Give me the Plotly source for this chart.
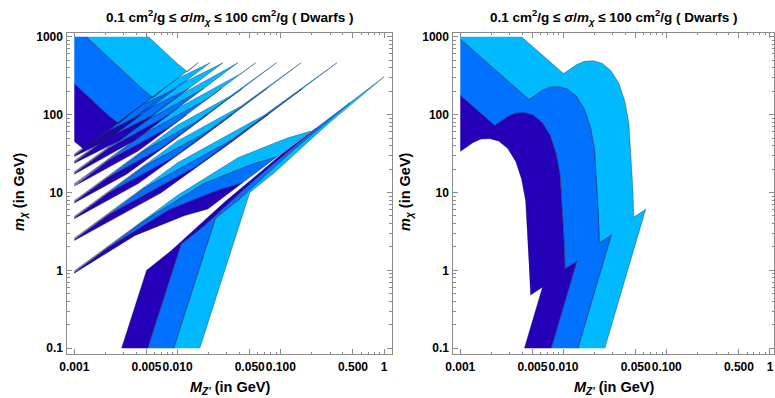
import numpy as np
import plotly.graph_objects as go

# Band colours: 10-100, 1-10 and 0.1-1 cm^2/g
DARK = "#2400b8"
MID = "#0072ff"
LIGHT = "#00b9ff"
EDGE = "rgba(25,30,80,0.6)"
FRAME = "#8c8c8c"

# sigma/m levels (cm^2/g) that bound the three coloured bands
levels = [100.0, 10.0, 1.0, 0.1]
band_colors = [DARK, MID, LIGHT]

# Plotted domain (GeV)
mz_lo, mz_hi = 0.001, 1.0
mx_lo, mx_hi = 0.1, 1000.0

# ---- sigma/m = 100 cm^2/g contour pieces, log10(M_Z'/GeV) and log10(m_chi/GeV) ----
# Left panel (resonant regime)
block_lmz = [-4.218, -3.000, -2.904, -2.799]
block_lmx = [3.154, 1.653, 1.551, 1.666]

s1_lmz = [-4.218, -3.000, -2.415, -1.936, -1.706]
s1_lmx = [-1.215, -0.037, 0.446, 0.700, 0.789]

s2_lmz = [-4.218, -3.000, -2.158, -1.456]
s2_lmx = [-0.795, 0.382, 0.996, 1.666]

s3_lmz = [-4.218, -3.000, -2.380, -1.802]
s3_lmx = [-0.516, 0.662, 1.114, 1.666]

s4_lmz = [-4.218, -3.000, -2.493, -2.041]
s4_lmx = [-0.313, 0.865, 1.235, 1.666]

s5_lmz = [-4.218, -3.000, -2.386, -2.243]
s5_lmx = [-0.097, 1.081, 1.528, 1.666]

s6_lmz = [-4.218, -3.000, -2.415]
s6_lmx = [0.056, 1.234, 1.666]

s7_lmz = [-4.218, -3.000, -2.559]
s7_lmx = [0.196, 1.374, 1.666]

s8_lmz = [-4.218, -3.000, -2.684]
s8_lmx = [0.285, 1.463, 1.666]

low_lmz = [-2.792, -2.540, -2.300, -2.060, -1.965, -1.725, -1.533, -1.245, -0.996]
low_lmx = [-2.032, -0.990, 0.001, 0.255, 0.370, 0.662, 0.891, 1.208, 1.488]

# Right panel
right_lmz = [-4.026, -3.000, -2.875, -2.799, -2.712, -2.626, -2.540, -2.463,
             -2.406, -2.367, -2.348, -2.329, -2.319, -2.204, -2.377, -2.607]
right_lmx = [2.720, 1.526, 1.640, 1.685, 1.691, 1.659, 1.564, 1.399,
             1.170, 0.891, 0.471, 0.065, -0.316, -0.215, -0.990, -2.032]

left_pieces = [(block_lmz, block_lmx), (s1_lmz, s1_lmx), (s2_lmz, s2_lmx),
               (s3_lmz, s3_lmx), (s4_lmz, s4_lmx), (s5_lmz, s5_lmx),
               (s6_lmz, s6_lmx), (s7_lmz, s7_lmx), (s8_lmz, s8_lmx),
               (low_lmz, low_lmx)]
right_pieces = [(right_lmz, right_lmx)]

# Tick marks
x_major = [0.001, 0.005, 0.01, 0.05, 0.1, 0.5, 1]
x_major_text = ["0.001", "0.005", "0.010", "0.050", "0.100", "0.500", "1"]
y_major = [0.1, 1, 10, 100, 1000]
y_major_text = ["0.1", "1", "10", "100", "1000"]
x_minor = [d * 10.0 ** e for e in (-3, -2, -1) for d in (2, 3, 4, 6, 7, 8, 9)]
y_minor = [d * 10.0 ** e for e in (-1, 0, 1, 2) for d in (2, 3, 4, 5, 6, 7, 8, 9)]

TITLE = ("<b>0.1 cm<sup>2</sup>/g \u2264 <i>\u03c3</i>/<i>m</i><sub><i>\u03c7</i></sub>"
         " \u2264 100 cm<sup>2</sup>/g ( Dwarfs )</b>")
XLABEL = "<b><i>M</i><sub><i>Z'</i></sub> (in GeV)</b>"
YLABEL = "<b><i>m</i><sub><i>\u03c7</i></sub> (in GeV)</b>"


def contour_at(lmz, lmx, level):
    # sigma/m ~ 1/(M^2 m) along rays of fixed m/M: one decade in sigma/m
    # moves the contour by a third of a decade in both masses
    d = np.log10(levels[0] / level) / 3.0
    return np.asarray(lmz) + d, np.asarray(lmx) + d


def clip_polygon(pts, x0, x1, y0, y1):
    def cut(poly, inside, inter):
        out = []
        for i in range(len(poly)):
            cur, prev = poly[i], poly[i - 1]
            if inside(cur):
                if not inside(prev):
                    out.append(inter(prev, cur))
                out.append(cur)
            elif inside(prev):
                out.append(inter(prev, cur))
        return out

    def at_x(p, q, x):
        t = (x - p[0]) / (q[0] - p[0])
        return (x, p[1] + t * (q[1] - p[1]))

    def at_y(p, q, y):
        t = (y - p[1]) / (q[1] - p[1])
        return (p[0] + t * (q[0] - p[0]), y)

    rules = [(lambda p: p[0] >= x0, lambda p, q: at_x(p, q, x0)),
             (lambda p: p[0] <= x1, lambda p, q: at_x(p, q, x1)),
             (lambda p: p[1] >= y0, lambda p, q: at_y(p, q, y0)),
             (lambda p: p[1] <= y1, lambda p, q: at_y(p, q, y1))]
    for inside, inter in rules:
        if not pts:
            break
        pts = cut(pts, inside, inter)
    return pts


def on_border(p, q, box):
    x0, x1, y0, y1 = box
    eps = 1e-9
    return ((abs(p[0] - x0) < eps and abs(q[0] - x0) < eps) or
            (abs(p[0] - x1) < eps and abs(q[0] - x1) < eps) or
            (abs(p[1] - y0) < eps and abs(q[1] - y0) < eps) or
            (abs(p[1] - y1) < eps and abs(q[1] - y1) < eps))


box = (np.log10(mz_lo), np.log10(mz_hi), np.log10(mx_lo), np.log10(mx_hi))

fig = go.Figure()


def add_panel(pieces, xa, ya):
    ex, ey = [], []
    for k in (2, 1, 0):
        for lmz, lmx in pieces:
            ax, ay = contour_at(lmz, lmx, levels[k])
            bx, by = contour_at(lmz, lmx, levels[k + 1])
            poly = list(zip(ax, ay)) + list(zip(bx[::-1], by[::-1]))
            poly = clip_polygon(poly, *box)
            if len(poly) < 3:
                continue
            px = [10 ** p[0] for p in poly] + [10 ** poly[0][0]]
            py = [10 ** p[1] for p in poly] + [10 ** poly[0][1]]
            fig.add_trace(go.Scatter(x=px, y=py, mode="lines", fill="toself",
                                     fillcolor=band_colors[k], line=dict(width=0),
                                     hoverinfo="skip", showlegend=False,
                                     xaxis=xa, yaxis=ya))
            for i in range(len(poly)):
                p, q = poly[i - 1], poly[i]
                if on_border(p, q, box):
                    continue
                ex += [10 ** p[0], 10 ** q[0], None]
                ey += [10 ** p[1], 10 ** q[1], None]
    fig.add_trace(go.Scatter(x=ex, y=ey, mode="lines",
                             line=dict(color=EDGE, width=0.6),
                             hoverinfo="skip", showlegend=False,
                             xaxis=xa, yaxis=ya))


add_panel(left_pieces, "x", "y")
add_panel(right_pieces, "x2", "y2")

W, H = 775, 398
tickfont = dict(family="Liberation Sans", size=12, color="black", weight="bold")


def xaxis(domain, rng, anchor):
    return dict(type="log", domain=domain, range=rng, anchor=anchor,
                showgrid=False, zeroline=False, showline=True, mirror="ticks",
                linecolor=FRAME, linewidth=1, ticks="inside", ticklen=5,
                tickcolor=FRAME, tickwidth=1, tickmode="array",
                tickvals=x_major, ticktext=x_major_text, tickangle=0,
                tickfont=tickfont, ticklabelstandoff=1,
                minor=dict(ticks="inside", ticklen=2.5, tickcolor=FRAME,
                           tickmode="array", tickvals=x_minor, showgrid=False))


def yaxis(anchor):
    return dict(type="log", domain=[43 / H, 368 / H], range=[-1.079, 3.051],
                anchor=anchor, showgrid=False, zeroline=False, showline=True,
                mirror="ticks", linecolor=FRAME, linewidth=1, ticks="inside",
                ticklen=5, tickcolor=FRAME, tickwidth=1, tickmode="array",
                tickvals=y_major, ticktext=y_major_text, tickfont=tickfont,
                ticklabelstandoff=1,
                minor=dict(ticks="inside", ticklen=2.5, tickcolor=FRAME,
                           tickmode="array", tickvals=y_minor, showgrid=False))


annotations = []
for cx, ylab_x in ((224, 12), (612, 402)):
    annotations.append(dict(text=TITLE, x=cx / W, y=1 - 14 / H, xref="paper", yref="paper",
                            showarrow=False, xanchor="center", yanchor="middle",
                            font=dict(family="Liberation Sans", size=13.5, color="black")))
    annotations.append(dict(text=XLABEL, x=cx / W, y=1 - 389 / H, xref="paper", yref="paper",
                            showarrow=False, xanchor="center", yanchor="middle",
                            font=dict(family="Liberation Sans", size=14.5, color="black")))
    annotations.append(dict(text=YLABEL, x=ylab_x / W, y=1 - 190 / H, xref="paper",
                            yref="paper", showarrow=False, textangle=-90,
                            xanchor="center", yanchor="middle",
                            font=dict(family="Liberation Sans", size=14.5, color="black")))

fig.update_layout(
    width=W, height=H, margin=dict(l=0, r=0, t=0, b=0),
    paper_bgcolor="white", plot_bgcolor="white",
    xaxis=xaxis([60 / W, 388 / W], [-3.067, 0.077], "y"),
    yaxis=yaxis("x"),
    xaxis2=xaxis([450 / W, 774 / W], [-3.067, 0.039], "y2"),
    yaxis2=yaxis("x2"),
    annotations=annotations,
    hovermode=False,
)

fig.write_html("out.html")
